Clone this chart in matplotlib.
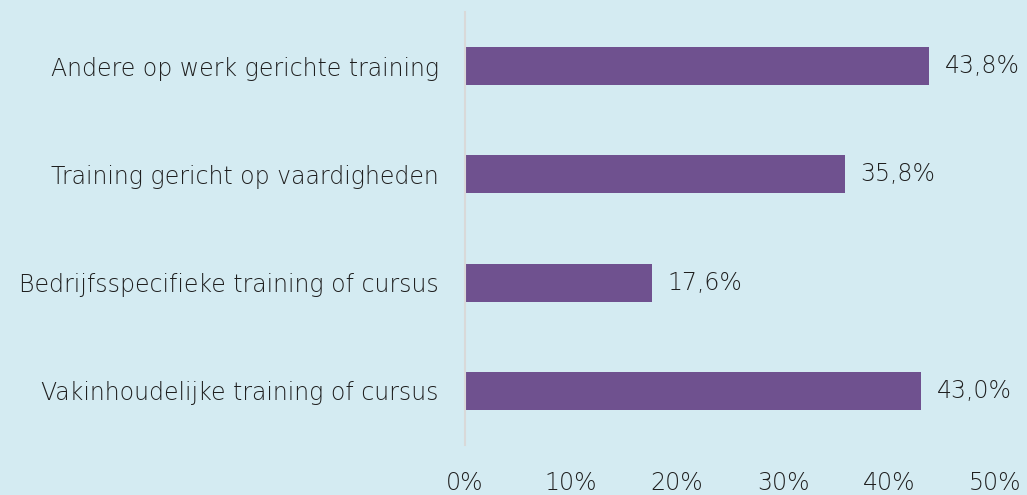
import matplotlib.pyplot as plt
from matplotlib.ticker import FuncFormatter

categories = [
    "Vakinhoudelijke training of cursus",
    "Bedrijfsspecifieke training of cursus",
    "Training gericht op vaardigheden",
    "Andere op werk gerichte training",
]
values = [43.0, 17.6, 35.8, 43.8]

BG = "#d4ebf2"
BAR = "#6f518f"
TXT = "#1f1f1f"
FONT = ["DejaVu Sans"]
WEIGHT = 200
FS = 17

plt.rcParams["font.family"] = FONT

fig = plt.figure(figsize=(10.27, 4.95), dpi=100, facecolor=BG)
ax = fig.add_axes([0.4528, 0.101, 0.5162, 0.875], facecolor=BG)

y = list(range(len(categories)))
ax.barh(y, values, height=0.35, color=BAR, edgecolor="none")
for yi, v in zip(y, values):
    ax.text(v + 1.5, yi, f"{v:.1f}%".replace(".", ","), va="center", ha="left",
            fontsize=FS, color=TXT, fontweight=WEIGHT)

ax.set_xlim(0, 50)
ax.set_ylim(-0.5, 3.5)
ax.set_yticks(y)
ax.set_yticklabels(categories, fontsize=FS, color=TXT, fontweight=WEIGHT)
ax.set_xticks([0, 10, 20, 30, 40, 50])
ax.xaxis.set_major_formatter(FuncFormatter(lambda v, _: f"{v:.0f}%"))
ax.tick_params(axis="x", length=0, pad=19, labelsize=FS, labelcolor=TXT)
for lbl in ax.get_xticklabels():
    lbl.set_fontweight(WEIGHT)
ax.tick_params(axis="y", length=0, pad=19)

for s in ["top", "right", "bottom"]:
    ax.spines[s].set_visible(False)
ax.spines["left"].set_color("#d9d9d9")
ax.spines["left"].set_linewidth(1.5)

fig.savefig("out.png", dpi=100, facecolor=BG)
